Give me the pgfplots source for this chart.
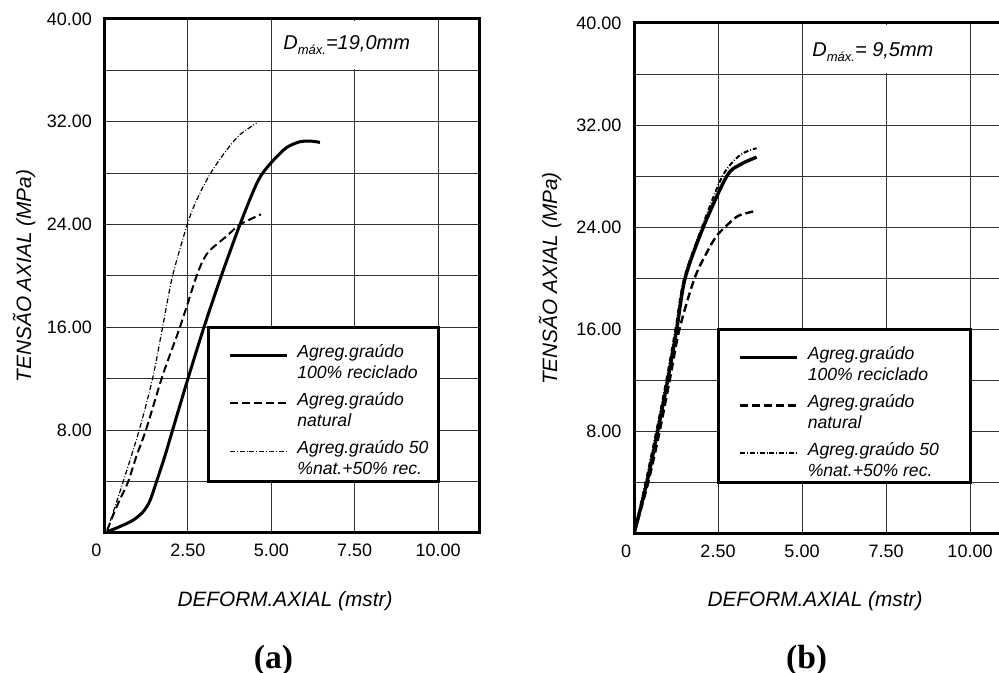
\documentclass[border=0pt]{standalone}
\usepackage{fontspec}
\setmainfont{Liberation Sans}
\newfontfamily\seriffont{Liberation Serif}
\usepackage{pgfplots}
\pgfplotsset{compat=1.18}
\newcommand{\leg}[2]{\fontsize{8.8}{10.5}\selectfont\itshape\begin{tabular}[t]{@{}l@{}}#1\\#2\end{tabular}}
\pgfplotsset{
  legend image code/.code={\path (0pt,0pt); \draw[#1] (0pt,1pt) -- (28.5pt,1pt);},
  myax/.style={
    scale only axis, anchor=south west,
    xmin=0, xmax=11.25, ymin=0, ymax=40,
    xtick={0,2.5,5,7.5,10},
    xticklabels={\makebox[0pt][r]{0\kern1.5pt},2.50,5.00,7.50,10.00},
    ytick={8,16,24,32,40},
    yticklabels={8.00,16.00,24.00,32.00,40.00},
    minor ytick={4,12,20,28,36},
    grid=both,
    major grid style={line width=0.5pt, black!80},
    minor grid style={line width=0.5pt, black!80},
    axis line style={line width=1.5pt},
    major tick length=0pt, minor tick length=0pt,
    tick label style={font=\fontsize{9}{10}\selectfont},
    yticklabel style={xshift=-2.8pt},
    xticklabel style={yshift=-1.75pt},
    legend style={draw=none, fill=none, anchor=north west, inner sep=0pt,
      row sep=3pt, column sep=4.5pt,
      font=\fontsize{8.8}{10.5}\selectfont,
      cells={anchor=base west},
      nodes={inner sep=0pt, text depth=}},
  },
}
\begin{document}
\begin{tikzpicture}
\path[use as bounding box] (0pt,0pt) rectangle (499.5pt,336.5pt);
% ---------------- (a) ----------------
\begin{axis}[myax, at={(52.25pt,70pt)}, width=187.65pt, height=257pt,
  legend style={at={(0.329,0.371)}}]
\fill[white] (axis cs:5.05,36.1) rectangle (axis cs:9.95,39.85);
\draw[line width=1.5pt, fill=white] (axis cs:3.13,4) rectangle (axis cs:10,16);
\addplot[black, line width=1.5pt, smooth] coordinates {
(0.08,0.1) (0.46,0.5) (0.86,1.0) (1.16,1.66) (1.36,2.5) (1.56,4.0) (1.8,5.9)
(2.04,8) (2.5,12) (2.98,16) (3.5,20) (4.06,24) (4.51,26.9) (4.74,28)
(5.06,29.0) (5.46,30.0) (5.86,30.45) (6.16,30.5) (6.46,30.4)};
\addlegendentry{\leg{Agreg.graúdo}{100\% reciclado}}
\addplot[black, line width=1pt, dash pattern=on 4pt off 2pt, smooth] coordinates {
(0.08,0.2) (0.26,1.4) (0.46,2.6) (0.71,4) (0.96,6.0) (1.24,8) (1.71,12)
(1.98,14.0) (2.26,16) (2.51,18) (2.76,20) (2.95,21.2) (3.16,22.0) (3.66,23.1)
(4.06,24.0) (4.69,24.8)};
\addlegendentry{\leg{Agreg.graúdo}{natural}}
\addplot[black, line width=0.6pt, dash pattern=on 2.5pt off 1pt on 0.4pt off 1pt, smooth] coordinates {
(0.08,0.2) (0.56,4) (1.04,8) (1.44,12) (1.74,16) (2.04,20) (2.48,24)
(2.76,25.9) (3.18,28) (3.66,29.8) (4.06,31.0) (4.56,31.9)};
\addlegendentry{\leg{Agreg.graúdo 50}{\%nat.+50\% rec.}}
\end{axis}
% ---------------- (b) ----------------
\begin{axis}[myax, at={(317pt,69.5pt)}, width=189pt, height=255.5pt,
  legend style={at={(0.275,0.3712)}}]
\fill[white] (axis cs:5.05,36.1) rectangle (axis cs:9.95,39.85);
\draw[line width=1.5pt, fill=white] (axis cs:2.5,4) rectangle (axis cs:10,16);
\addplot[black, line width=1.7pt, smooth] coordinates {
(0,0) (0.38,4) (0.7,8) (1.0,12) (1.27,16) (1.52,20) (2.06,24) (2.76,28)
(3.15,28.9) (3.65,29.5)};
\addlegendentry{\leg{Agreg.graúdo}{100\% reciclado}}
\addplot[black, line width=1.2pt, dash pattern=on 4pt off 2pt, smooth] coordinates {
(0,0) (0.42,4) (0.76,8) (1.06,12) (1.35,16) (1.8,20) (2.2,22.2) (2.45,23.3)
(2.7,24.0) (3.1,24.9) (3.65,25.3)};
\addlegendentry{\leg{Agreg.graúdo}{natural}}
\addplot[black, line width=1pt, dash pattern=on 2.5pt off 1pt on 0.4pt off 1pt, smooth] coordinates {
(0,0) (0.34,4) (0.66,8) (0.96,12) (1.23,16) (1.49,20) (2.02,24) (2.63,28)
(3.15,29.65) (3.65,30.2)};
\addlegendentry{\leg{Agreg.graúdo 50}{\%nat.+50\% rec.}}
\end{axis}
% ---------------- texts ----------------
\node[rotate=90, anchor=base, font=\itshape\fontsize{10.4}{12}\selectfont] at (15.5pt,198.5pt) {TENSÃO AXIAL (MPa)};
\node[rotate=90, anchor=base, font=\itshape\fontsize{10.4}{12}\selectfont] at (278.5pt,197.25pt) {TENSÃO AXIAL (MPa)};
\node[anchor=base, font=\itshape\fontsize{10.4}{12}\selectfont] at (142.5pt,33.15pt) {DEFORM.AXIAL (mstr)};
\node[anchor=base, font=\itshape\fontsize{10.4}{12}\selectfont] at (407.5pt,33.15pt) {DEFORM.AXIAL (mstr)};
\node[anchor=base west, inner sep=0pt, font=\itshape\fontsize{10}{12}\selectfont] at (141.5pt,311.85pt) {D\raisebox{-2.6pt}{\fontsize{6.5}{7}\selectfont máx.}=19,0mm};
\node[anchor=base west, inner sep=0pt, font=\itshape\fontsize{10}{12}\selectfont] at (406pt,308.15pt) {D\raisebox{-2.6pt}{\fontsize{6.5}{7}\selectfont máx.}= 9,5mm};
\node[anchor=base, inner sep=0pt, font=\seriffont\bfseries\fontsize{16.8}{18}\selectfont] at (136.75pt,2.35pt) {(a)};
\node[anchor=base, inner sep=0pt, font=\seriffont\bfseries\fontsize{16.8}{18}\selectfont] at (403.3pt,2.35pt) {(b)};
\end{tikzpicture}
\end{document}
